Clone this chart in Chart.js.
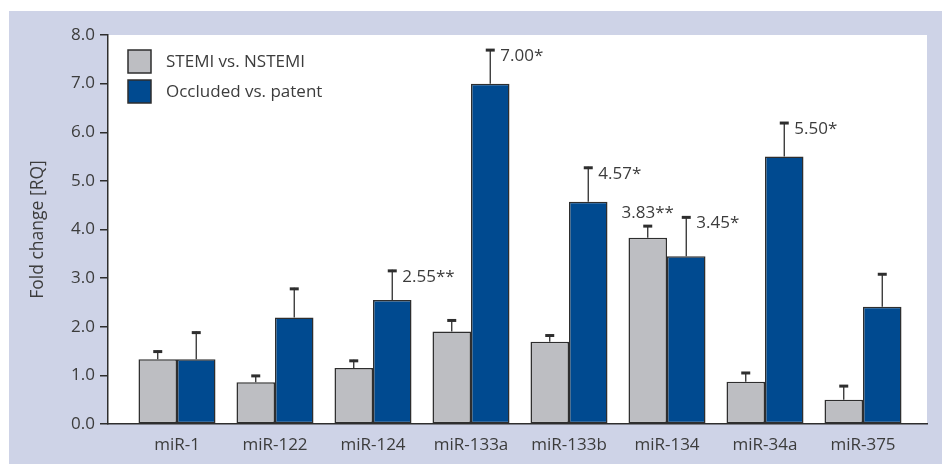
<!DOCTYPE html>
<html>
<head>
<meta charset="utf-8">
<script src="https://cdn.jsdelivr.net/npm/chart.js@4.4.0/dist/chart.umd.min.js"></script>
<style>
  html, body { margin: 0; padding: 0; background: #fff; }
  #wrap { width: 942px; height: 464px; }
</style>
</head>
<body>
<div id="wrap"><canvas id="chart"></canvas></div>
<script>
const categories = ['miR-1', 'miR-122', 'miR-124', 'miR-133a', 'miR-133b', 'miR-134', 'miR-34a', 'miR-375'];

const stemiLabel  = 'STEMI vs. NSTEMI';
const stemiValues = [1.33, 0.86, 1.15, 1.90, 1.69, 3.83, 0.87, 0.50];
const stemiErrTop = [1.51, 1.01, 1.32, 2.15, 1.84, 4.09, 1.07, 0.80];
const stemiNotes  = ['', '', '', '', '', '3.83**', '', ''];

const occlLabel  = 'Occluded vs. patent';
const occlValues = [1.33, 2.19, 2.55, 7.00, 4.57, 3.45, 5.50, 2.41];
const occlErrTop = [1.90, 2.80, 3.17, 7.71, 5.29, 4.27, 6.21, 3.10];
const occlNotes  = ['', '', '2.55**', '7.00*', '4.57*', '3.45*', '5.50*', ''];

const yTicks = [0, 1, 2, 3, 4, 5, 6, 7, 8];

const TEXT  = '#3c3c3c';
const LINE  = '#2e2e2e';
const FONT  = '"Open Sans", "Noto Sans", sans-serif';

const errTops = [stemiErrTop, occlErrTop];
const notes   = [stemiNotes, occlNotes];

// lavender frame + white plot area
const frame = {
  id: 'frame',
  beforeDraw(chart) {
    const { ctx, chartArea: a } = chart;
    ctx.save();
    ctx.fillStyle = '#ced3e7';
    ctx.fillRect(9, 11, chart.width - 9, chart.height - 11);
    ctx.fillStyle = '#ffffff';
    ctx.fillRect(a.left, a.top, a.right - a.left, a.bottom - a.top);
    ctx.restore();
  },
};

// error bars + significance notes
const errorBars = {
  id: 'errorBars',
  afterDatasetsDraw(chart) {
    const { ctx } = chart;
    const yScale = chart.scales.y;
    ctx.save();
    chart.data.datasets.forEach((ds, di) => {
      const meta = chart.getDatasetMeta(di);
      meta.data.forEach((bar, i) => {
        const yTop = yScale.getPixelForValue(errTops[di][i]);
        ctx.strokeStyle = LINE;
        ctx.lineWidth = 1.3;
        ctx.beginPath();
        ctx.moveTo(bar.x, bar.y);
        ctx.lineTo(bar.x, yTop);
        ctx.stroke();
        ctx.lineWidth = 3;
        ctx.beginPath();
        ctx.moveTo(bar.x - 4.5, yTop + 1);
        ctx.lineTo(bar.x + 4.5, yTop + 1);
        ctx.stroke();

        const note = notes[di][i];
        if (!note) return;
        ctx.fillStyle = TEXT;
        ctx.font = `17px ${FONT}`;
        ctx.textBaseline = 'middle';
        if (di === 0) {
          ctx.textAlign = 'center';
          ctx.fillText(note, bar.x, yTop - 12);
        } else {
          ctx.textAlign = 'left';
          ctx.fillText(note, bar.x + 10, yTop + 7);
        }
      });
    });
    ctx.restore();
  },
};

// legend inside the plot, top left
const innerLegend = {
  id: 'innerLegend',
  afterDraw(chart) {
    const { ctx, chartArea: a } = chart;
    ctx.save();
    chart.data.datasets.forEach((ds, i) => {
      const x = a.left + 20, y = a.top + 15 + i * 30;
      ctx.fillStyle = ds.backgroundColor;
      ctx.fillRect(x, y, 23, 23);
      ctx.strokeStyle = LINE;
      ctx.lineWidth = 1.5;
      ctx.strokeRect(x, y, 23, 23);
      ctx.fillStyle = TEXT;
      ctx.font = `17px ${FONT}`;
      ctx.textAlign = 'left';
      ctx.textBaseline = 'middle';
      ctx.fillText(ds.label, x + 38, y + 12);
    });
    ctx.restore();
  },
};

const barStyle = {
  borderColor: LINE,
  borderWidth: 1.5,
  borderSkipped: false,
  categoryPercentage: 0.786,
  barPercentage: 1.0,
};

new Chart(document.getElementById('chart'), {
  type: 'bar',
  data: {
    datasets: [
      { label: stemiLabel, data: stemiValues.map((v, i) => ({ x: i, y: v })), backgroundColor: '#bdbec2', ...barStyle },
      { label: occlLabel,  data: occlValues.map((v, i) => ({ x: i, y: v })),  backgroundColor: '#004a90', ...barStyle },
    ],
  },
  options: {
    responsive: true,
    maintainAspectRatio: false,
    animation: false,
    layout: { padding: { top: 35, right: 15, bottom: 0, left: 0 } },
    plugins: { legend: { display: false }, tooltip: { enabled: false } },
    scales: {
      x: {
        type: 'linear',
        offset: false,
        min: -0.704,
        max: 7.653,
        afterBuildTicks: s => { s.ticks = categories.map((_, i) => ({ value: i })); },
        afterFit: s => { s.height = 40; },
        grid: { display: false, offset: false },
        border: { display: true, color: LINE, width: 1.5 },
        ticks: {
          autoSkip: false,
          maxRotation: 0,
          padding: 3,
          color: TEXT,
          font: { size: 17, family: FONT },
          callback: v => categories[v],
        },
      },
      y: {
        min: 0,
        max: 8,
        afterBuildTicks: s => { s.ticks = yTicks.map(v => ({ value: v })); },
        afterFit: s => { s.width = 108; },
        grid: { drawOnChartArea: false, tickLength: 8, color: LINE, lineWidth: 1.5 },
        border: { display: true, color: LINE, width: 1.5 },
        ticks: {
          padding: 5,
          color: TEXT,
          font: { size: 17, family: FONT },
          callback: v => v.toFixed(1),
        },
        title: {
          display: true,
          text: 'Fold change [RQ]',
          color: TEXT,
          font: { size: 17.5, family: FONT },
          padding: { top: 28, bottom: 0 },
        },
      },
    },
  },
  plugins: [frame, errorBars, innerLegend],
});
</script>
</body>
</html>
